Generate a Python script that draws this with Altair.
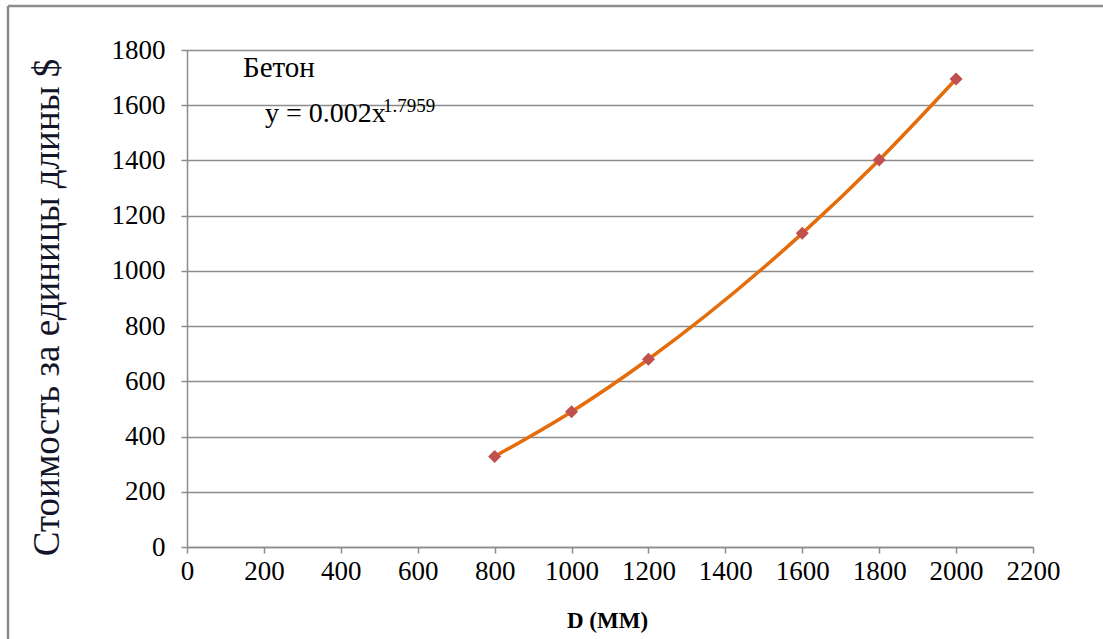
import altair as alt
import pandas as pd

# Concrete pipe: cost per unit length vs. diameter
diameter_mm = [800, 1000, 1200, 1600, 1800, 2000]
cost_usd = [328, 490, 680, 1136, 1402, 1695]

x_ticks = list(range(0, 2201, 200))
y_ticks = list(range(0, 1801, 200))

series_name = "Бетон"
trend_text = "y = 0.002x"
trend_power = "1.7959"

df = pd.DataFrame({"D": diameter_mm, "cost": cost_usd})

W, H = 846, 497
PAD_L, PAD_T = 187, 50
FULL_W, FULL_H = 1103, 639

GRAY = "#8c8c8c"
SERIF = "Liberation Serif"

x_enc = alt.X(
    "D:Q",
    scale=alt.Scale(domain=[0, 2200], nice=False, zero=False),
    axis=alt.Axis(
        title="D (MM)",
        values=x_ticks,
        format="d",
        labelOverlap=False,
        labelFlush=False,
        grid=False,
        tickSize=6,
        tickColor=GRAY,
        tickWidth=1.5,
        domainColor=GRAY,
        domainWidth=1.5,
        labelFont=SERIF,
        labelFontSize=27,
        labelColor="#000000",
        labelPadding=5,
        titleFont=SERIF,
        titleFontSize=23,
        titleFontWeight="bold",
        titleColor="#000000",
        titleBaseline="alphabetic",
        titleY=80,
        titleX=W / 2 - 3,
    ),
)

y_enc = alt.Y(
    "cost:Q",
    scale=alt.Scale(domain=[0, 1800], nice=False, zero=False),
    axis=alt.Axis(
        title="Стоимость за единицы длины $",
        values=y_ticks,
        format="d",
        labelOverlap=False,
        labelFlush=False,
        grid=True,
        gridColor=GRAY,
        gridWidth=1.5,
        tickSize=6,
        tickColor=GRAY,
        tickWidth=1.5,
        domainColor=GRAY,
        domainWidth=1.5,
        labelFont=SERIF,
        labelFontSize=27,
        labelColor="#000000",
        labelPadding=16,
        titleFont=SERIF,
        titleFontSize=37,
        titleFontWeight="normal",
        titleColor="#14142a",
        titleAngle=-90,
        titleAlign="center",
        titleBaseline="alphabetic",
        titleX=58 - PAD_L,
        titleY=257,
    ),
)

base = alt.Chart(df)

curve = base.mark_line(
    color="#E46C0A", strokeWidth=3.5, interpolate="monotone"
).encode(x=x_enc, y=y_enc)

markers = base.mark_point(
    shape="diamond", filled=True, size=170, color="#C0504D", opacity=1
).encode(x="D:Q", y="cost:Q")

notes = alt.Chart(pd.DataFrame({"name": [series_name], "eq": [trend_text], "pw": [trend_power]}))

label_name = notes.mark_text(
    font=SERIF, fontSize=29, align="left", baseline="alphabetic", color="#000000"
).encode(text="name:N", x=alt.value(56), y=alt.value(27))

label_eq = notes.mark_text(
    font=SERIF, fontSize=28, align="left", baseline="alphabetic", color="#000000"
).encode(text="eq:N", x=alt.value(78), y=alt.value(72))

label_exp = notes.mark_text(
    font=SERIF, fontSize=19, align="left", baseline="alphabetic", color="#000000"
).encode(text="pw:N", x=alt.value(196), y=alt.value(62))

# outer frame lines along the top and left edges
frame_top = notes.mark_rule(color=GRAY, strokeWidth=2.5, clip=False).encode(
    x=alt.value(8 - PAD_L), x2=alt.value(FULL_W - PAD_L),
    y=alt.value(6 - PAD_T), y2=alt.value(6 - PAD_T),
)
frame_left = notes.mark_rule(color=GRAY, strokeWidth=2.5, clip=False).encode(
    x=alt.value(8 - PAD_L), x2=alt.value(8 - PAD_L),
    y=alt.value(6 - PAD_T), y2=alt.value(FULL_H - PAD_T),
)

chart = (
    alt.layer(frame_top, frame_left, curve, markers, label_name, label_eq, label_exp)
    .properties(
        width=W,
        height=H,
        padding={"left": PAD_L, "top": PAD_T, "right": FULL_W - PAD_L - W, "bottom": FULL_H - PAD_T - H},
        autosize=alt.AutoSizeParams(type="none"),
        background="#ffffff",
    )
    .configure_view(stroke=None)
)

chart.save("out.html", embed_options={"renderer": "svg", "actions": False})
